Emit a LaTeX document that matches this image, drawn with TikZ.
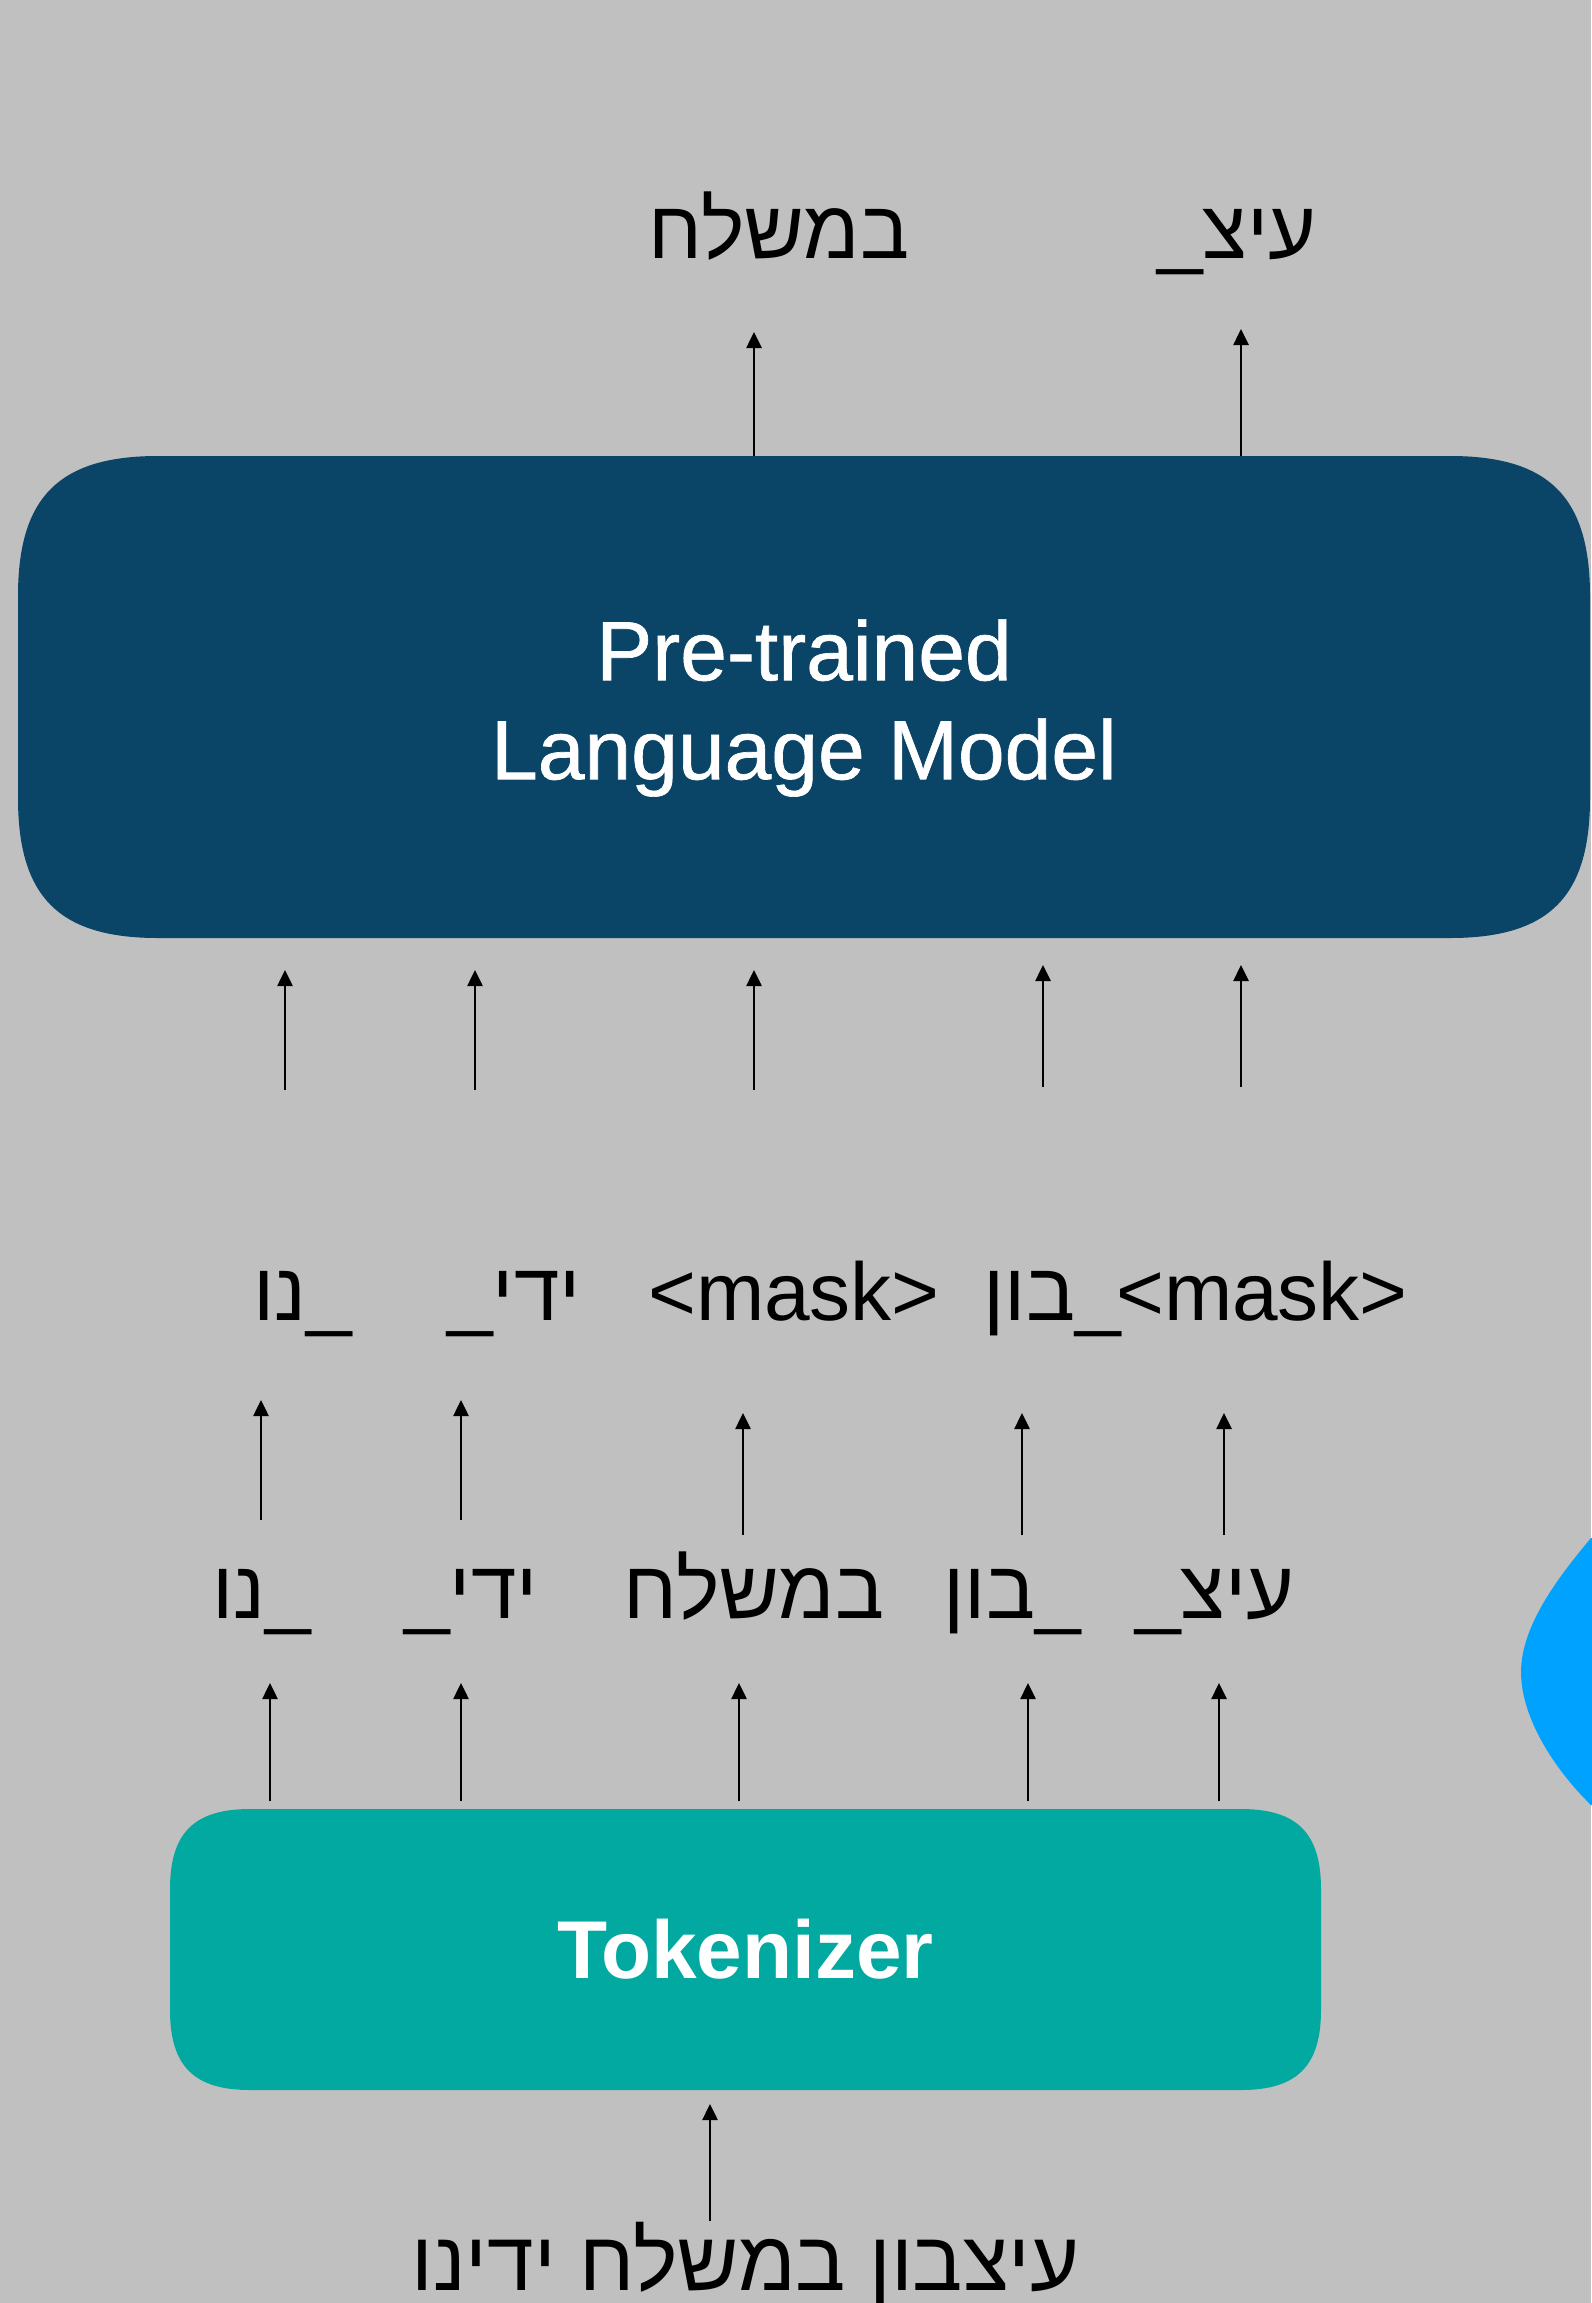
\documentclass[tikz,border=0pt]{standalone}
\usepackage{fontspec}
\setmainfont{Liberation Sans}
\newfontfamily\hebfont[Script=Hebrew]{Liberation Sans}
\newfontfamily\lmfont[FakeBold=0.8]{Liberation Sans}
\TeXXeTstate=1
\usetikzlibrary{arrows.meta,calc}
\definecolor{bgc}{RGB}{192,192,192}
\definecolor{lmc}{RGB}{10,68,102}
\definecolor{tkc}{RGB}{2,169,160}
\definecolor{blobc}{RGB}{0,162,255}
\pgfdeclarelayer{bgl}
\pgfsetlayers{bgl,main}
\newcommand\sqbox[4]{\fill[#4] ($(#1.north west)+(0,#2)$) .. controls ($(#1.north west)+(0,#3)$) and ($(#1.north west)+(#3,0)$) .. ($(#1.north west)+(#2,0)$) -- ($(#1.north east)+(-#2,0)$) .. controls ($(#1.north east)+(-#3,0)$) and ($(#1.north east)+(0,#3)$) .. ($(#1.north east)+(0,#2)$) -- ($(#1.south east)+(0,-#2)$) .. controls ($(#1.south east)+(0,-#3)$) and ($(#1.south east)+(-#3,0)$) .. ($(#1.south east)+(-#2,0)$) -- ($(#1.south west)+(#2,0)$) .. controls ($(#1.south west)+(#3,0)$) and ($(#1.south west)+(0,-#3)$) .. ($(#1.south west)+(0,-#2)$) -- cycle;}
\begin{document}
\begin{tikzpicture}[x=0.5pt,y=-0.5pt,
  arr/.style={line width=1.3pt,-{Triangle[length=8pt,width=7.5pt]}},
  tok/.style={anchor=base,inner sep=0pt,font=\fontsize{41}{48}\selectfont},
  heb/.style={anchor=base,inner sep=0pt,font=\fontsize{41}{48}\selectfont\hebfont},
  holder/.style={inner sep=0pt,outer sep=0pt}]
\useasboundingbox (0,0) rectangle (1591,2303);
\clip (0,0) rectangle (1591,2303);
\begin{pgfonlayer}{bgl}
\fill[bgc] (0,0) rectangle (1591,2303);
\end{pgfonlayer}

% boxes
\node[holder,minimum width=786pt,minimum height=241pt] (lm) at (804,697) {};
\node[holder,text=white,align=center,font=\fontsize{42}{49.5}\selectfont\lmfont] (lmt) at ([yshift=-5.5pt]lm.center) {Pre-trained\\Language Model};
\node[holder,minimum width=575.5pt,minimum height=140.5pt,text=white,font=\fontsize{41}{49}\selectfont\bfseries] (tk) at (745.5,1949.5) {Tokenizer};
\begin{pgfonlayer}{bgl}
\sqbox{lm}{140}{41}{lmc}
\sqbox{tk}{80}{24}{tkc}
\fill[blobc] (1600,1538) -- (1591,1538) .. controls (1560,1575) and (1521,1625) .. (1521,1672) .. controls (1521,1718) and (1555,1770) .. (1591,1805) -- (1600,1805) -- cycle;
\end{pgfonlayer}

% outputs
\node[heb] (o1) at (779,258) {\beginR במשלח\endR};
\node[heb] (o2) at (1237,258) {\beginR עיצ\_\endR};

% masked row
\node[heb] (m1) at (303,1320) {\beginR \_נו\endR};
\node[heb] (m2) at (514,1320) {\beginR ידי\_\endR};
\node[tok] (m3) at (794,1320) {<mask>};
\node[heb] (m4) at (1052,1320) {\beginR \_בון\endR};
\node[tok] (m5) at (1262,1320) {<mask>};

% token row
\node[heb] (t1) at (262,1618) {\beginR \_נו\endR};
\node[heb] (t2) at (471,1618) {\beginR ידי\_\endR};
\node[heb] (t3) at (754,1618) {\beginR במשלח\endR};
\node[heb] (t4) at (1012,1618) {\beginR \_בון\endR};
\node[heb] (t5) at (1215,1618) {\beginR עיצ\_\endR};

% input sentence
\node[heb,font=\fontsize{42}{48}\selectfont\hebfont] (inp) at (745.5,2290) {\beginR עיצבון במשלח ידינו\endR};

% arrows: LM -> outputs
\coordinate (oa1) at (754,332);
\coordinate (oa2) at (1241,329);
\draw[arr] (lm.north -| oa1) -- (oa1);
\draw[arr] (lm.north -| oa2) -- (oa2);

% masked row -> LM
\foreach \i/\x/\a/\b in {1/285/1090/970,2/475/1090/970,3/754/1090/970,4/1043/1087/965,5/1241/1087/965}{
  \coordinate (la\i) at (\x,\a);
  \coordinate (lb\i) at (\x,\b);
  \draw[arr] (la\i) -- (lb\i);
}
% token row -> masked row
\foreach \i/\x/\a/\b in {1/261/1520/1400,2/461/1520/1400,3/743/1535/1413,4/1022/1535/1413,5/1224/1535/1413}{
  \coordinate (ma\i) at (\x,\a);
  \coordinate (mb\i) at (\x,\b);
  \draw[arr] (ma\i) -- (mb\i);
}
% tokenizer -> token row
\foreach \i/\x in {1/270,2/461,3/739,4/1028,5/1219}{
  \coordinate (ta\i) at (\x,1683);
  \draw[arr] ([yshift=4pt]tk.north -| ta\i) -- (ta\i);
}
% input -> tokenizer
\coordinate (ia) at (710,2221);
\draw[arr] (ia) -- ([yshift=-7pt]tk.south -| ia);
\end{tikzpicture}
\end{document}
